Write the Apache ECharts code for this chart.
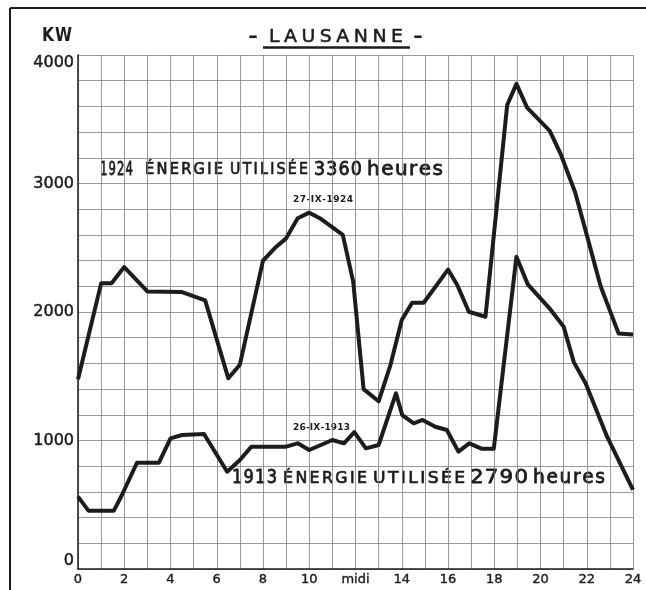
<!DOCTYPE html>
<html>
<head>
<meta charset="utf-8">
<script src="https://cdn.jsdelivr.net/npm/echarts@6/dist/echarts.min.js"></script>
<style>
  html, body { margin: 0; padding: 0; background: #fff; }
  #chart { width: 646px; height: 590px; }
</style>
</head>
<body>
<div id="chart"></div>
<script>
// heures (abscisse) et puissance en kW
var hours1924 = [0, 1, 1.45, 2, 3, 4.5, 5.5, 6.5, 7, 8, 8.5, 9, 9.5, 10, 10.5, 11.45, 11.9, 12.35, 13, 13.5, 14, 14.45, 14.95, 16, 16.4, 16.9, 17.62, 18.56, 18.96, 19.42, 20.4, 20.86, 21.5, 22, 22.6, 23.38, 24];
var kw1924 = [1476, 2223, 2223, 2350, 2160, 2155, 2090, 1484, 1590, 2400, 2496, 2573, 2729, 2773, 2725, 2600, 2236, 1400, 1305, 1580, 1938, 2072, 2072, 2330, 2210, 2002, 1963, 3611, 3775, 3590, 3410, 3235, 2930, 2600, 2200, 1832, 1825];

var hours1913 = [0, 0.45, 1.55, 1.9, 2.55, 3.5, 4, 4.5, 5.45, 6.45, 7, 7.5, 9, 9.5, 10, 10.5, 11, 11.5, 11.95, 12.45, 13, 13.75, 14.02, 14.52, 14.9, 15.45, 15.95, 16.45, 16.92, 17.47, 17.98, 18.96, 19.45, 20.43, 21, 21.44, 21.95, 22.88, 24];
var kw1913 = [563, 454, 454, 576, 827, 827, 1017, 1043, 1051, 757, 848, 952, 952, 978, 926, 965, 1004, 978, 1065, 939, 965, 1367, 1198, 1134, 1160, 1107, 1082, 913, 978, 935, 935, 2430, 2215, 2020, 1886, 1610, 1445, 1030, 615];

var yLabels = [0, 1000, 2000, 3000, 4000];
var xLabels = {0:'0', 2:'2', 4:'4', 6:'6', 8:'8', 10:'10', 12:'midi', 14:'14', 16:'16', 18:'18', 20:'20', 22:'22', 24:'24'};

function pairs(xs, ys) {
  var out = [];
  for (var i = 0; i < xs.length; i++) {
    out.push([xs[i], ys[i]]);
  }
  return out;
}

var ink = '#1c1c1c';
var family = '"DejaVu Sans", sans-serif';

// lettrage au normographe : chaque mot posé lettre par lettre entre x0 et x1
// gapFrac = espace fixe entre lettres (en fraction du corps), les lettres sont étirées pour remplir
// sans gapFrac : lettres à leur largeur, espace réparti
var measureCtx = document.createElement('canvas').getContext('2d');
function word(str, x0, x1, yc, font, size, gapFrac, weight) {
  measureCtx.font = font;
  var widths = [], total = 0;
  for (var i = 0; i < str.length; i++) {
    widths.push(measureCtx.measureText(str[i]).width);
    total += widths[i];
  }
  var span = x1 - x0, n = str.length;
  var gap, s;
  if (gapFrac === undefined || gapFrac === null) {
    s = 1;
    gap = n > 1 ? (span - total) / (n - 1) : 0;
    if (gap < 0 || n == 1) { gap = 0; s = span / total; }
  } else {
    gap = gapFrac * size;
    s = (span - gap * (n - 1)) / total;
  }
  var out = [], x = x0;
  for (var j = 0; j < n; j++) {
    out.push({
      type: 'text', x: x, y: yc, scaleX: s,
      style: {
        text: str[j], font: font, fill: ink,
        stroke: weight ? ink : null, lineWidth: weight || 0,
        textAlign: 'left', textVerticalAlign: 'middle', align: 'left', verticalAlign: 'middle'
      }
    });
    x += widths[j] * s + gap;
  }
  return out;
}

var labels = [].concat(
  word('-', 248, 258, 37.7, 'bold 18px ' + family, 18),
  word('LAUSANNE', 269, 403, 37.7, '18px ' + family, 18, 0.25, 0.5),
  word('-', 413, 423, 37.7, 'bold 18px ' + family, 18),
  word('KW', 42, 72, 35.5, 'bold 20px ' + family, 20, 0.05),

  word('1924', 100, 133, 169.7, '19px ' + family, 19, 0.06, 0.8),
  word('ÉNERGIE', 145, 223, 170.6, '15px ' + family, 15, 0.15, 0.7),
  word('UTILISÉE', 230, 308, 170.6, '15px ' + family, 15, 0.15, 0.7),
  word('3360', 314, 362, 169.7, '19px ' + family, 19, 0.06, 0.8),
  word('heures', 367, 443, 169.7, '19px ' + family, 19, 0.08, 0.8),

  word('1913', 232, 277, 477.5, '20px ' + family, 20, 0.06, 0.8),
  word('ÉNERGIE', 283, 367, 479, '16px ' + family, 16, 0.15, 0.7),
  word('UTILISÉE', 373, 465, 479, '16px ' + family, 16, 0.15, 0.7),
  word('2790', 470, 528, 477.5, '20px ' + family, 20, 0.06, 0.8),
  word('heures', 533, 605, 477.5, '20px ' + family, 20, 0.08, 0.8),

  word('27-IX-1924', 293, 353, 200, 'bold 9px ' + family, 9),
  word('26-IX-1913', 293, 350, 428, 'bold 9px ' + family, 9)
);

var chart = echarts.init(document.getElementById('chart'), null, {renderer: 'canvas'});
chart.setOption({
  backgroundColor: '#fff',
  animation: false,
  grid: { left: 78, right: 13, top: 55, bottom: 21 },
  xAxis: {
    type: 'value',
    min: 0,
    max: 24,
    interval: 1,
    axisLine: { lineStyle: { color: ink, width: 1.5 } },
    axisTick: { show: false },
    axisLabel: {
      margin: 4,
      color: ink,
      fontFamily: family,
      fontSize: 13,
      textBorderColor: ink,
      textBorderWidth: 0.4,
      formatter: function (v) { return xLabels[v] !== undefined ? xLabels[v] : ''; }
    },
    splitLine: { show: true, lineStyle: { color: '#808080', width: 0.8 } }
  },
  yAxis: {
    type: 'value',
    min: 0,
    max: 4000,
    interval: 200,
    axisLine: { show: true, lineStyle: { color: ink, width: 1.5 } },
    axisTick: { show: false },
    axisLabel: {
      margin: 4,
      color: ink,
      fontFamily: family,
      fontSize: 16,
      textBorderColor: ink,
      textBorderWidth: 0.5,
      verticalAlignMinLabel: 'bottom',
      verticalAlignMaxLabel: 'top',
      formatter: function (v) { return yLabels.indexOf(v) >= 0 ? String(v) : ''; }
    },
    splitLine: { show: true, lineStyle: { color: '#808080', width: 0.8 } }
  },
  series: [
    {
      name: '1924',
      type: 'line',
      data: pairs(hours1924, kw1924),
      symbol: 'none',
      lineStyle: { color: ink, width: 4, join: 'round' }
    },
    {
      name: '1913',
      type: 'line',
      data: pairs(hours1913, kw1913),
      symbol: 'none',
      lineStyle: { color: ink, width: 4, join: 'round' }
    }
  ],
  graphic: [
    // cadre de la planche
    { type: 'line', shape: { x1: 10, y1: 8, x2: 646, y2: 8 }, style: { stroke: ink, lineWidth: 2 } },
    { type: 'line', shape: { x1: 10, y1: 8, x2: 10, y2: 590 }, style: { stroke: ink, lineWidth: 2 } },
    // soulignement du titre
    { type: 'line', shape: { x1: 263, y1: 47.5, x2: 410, y2: 47.5 }, style: { stroke: ink, lineWidth: 2.7 } }
  ].concat(labels)
});
</script>
</body>
</html>
